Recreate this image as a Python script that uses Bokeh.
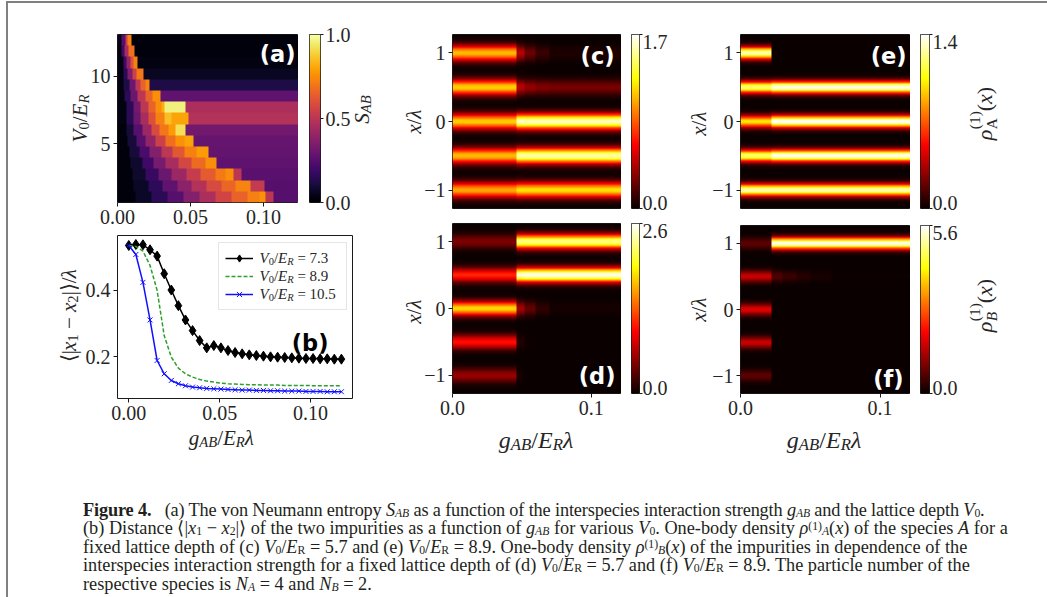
import numpy as np
from math import pi
from bokeh.plotting import figure
from bokeh.models import (Range1d, Label, FixedTicker, Div, LinearColorMapper,
                          PrintfTickFormatter, Legend, LegendItem, GridBox)
from bokeh.layouts import row, column
from bokeh.palettes import Inferno256
from bokeh.embed import file_html
from bokeh.resources import INLINE

# ---------------------------------------------------------------- data
# (a) von Neumann entropy S_AB : rows of lattice depth, each row = list of (g_start, S)
g_max_a = 0.124
V0_rows = [1.05, 1.88, 2.71, 3.54, 4.37, 5.20, 6.03, 6.86, 7.69, 8.52, 9.35, 10.18, 11.01, 11.84, 12.67]
row_height = 0.83
S_rows = [
    [(0, 0.02), (0.012, 0.07), (0.023, 0.15), (0.034, 0.25), (0.045, 0.36), (0.056, 0.46), (0.067, 0.56), (0.078, 0.65), (0.089, 0.72), (0.097, 0.76), (0.1016, 0.5), (0.1069, 0.25)],
    [(0, 0.02), (0.011, 0.07), (0.021, 0.16), (0.031, 0.27), (0.041, 0.38), (0.051, 0.48), (0.061, 0.58), (0.071, 0.66), (0.081, 0.73), (0.0909, 0.52), (0.1012, 0.25)],
    [(0, 0.02), (0.010, 0.08), (0.019, 0.18), (0.028, 0.30), (0.037, 0.42), (0.047, 0.53), (0.057, 0.63), (0.067, 0.71), (0.074, 0.75), (0.0795, 0.5), (0.0852, 0.26)],
    [(0, 0.02), (0.009, 0.08), (0.017, 0.20), (0.025, 0.33), (0.033, 0.45), (0.042, 0.57), (0.051, 0.67), (0.060, 0.75), (0.0681, 0.27)],
    [(0, 0.02), (0.008, 0.10), (0.015, 0.22), (0.022, 0.36), (0.030, 0.50), (0.038, 0.62), (0.046, 0.72), (0.054, 0.78), (0.0624, 0.28)],
    [(0, 0.02), (0.007, 0.10), (0.013, 0.25), (0.019, 0.40), (0.026, 0.55), (0.033, 0.68), (0.040, 0.76), (0.046, 0.80), (0.0521, 0.29)],
    [(0, 0.02), (0.006, 0.10), (0.011, 0.25), (0.017, 0.42), (0.023, 0.58), (0.029, 0.70), (0.035, 0.78), (0.0395, 0.92), (0.0464, 0.32)],
    [(0, 0.03), (0.006, 0.15), (0.011, 0.30), (0.016, 0.45), (0.021, 0.60), (0.026, 0.72), (0.032, 0.85), (0.0372, 0.80), (0.0487, 0.48)],
    [(0, 0.03), (0.006, 0.15), (0.011, 0.32), (0.016, 0.50), (0.021, 0.65), (0.026, 0.75), (0.030, 0.82), (0.0327, 0.96), (0.0464, 0.46)],
    [(0, 0.03), (0.005, 0.15), (0.009, 0.30), (0.014, 0.50), (0.019, 0.65), (0.024, 0.75), (0.0297, 0.27)],
    [(0, 0.03), (0.004, 0.12), (0.008, 0.30), (0.012, 0.50), (0.016, 0.65), (0.019, 0.73), (0.0219, 0.12)],
    [(0, 0.03), (0.004, 0.15), (0.007, 0.35), (0.010, 0.55), (0.013, 0.70), (0.0178, 0.06)],
    [(0, 0.03), (0.004, 0.20), (0.006, 0.40), (0.009, 0.60), (0.011, 0.72), (0.0137, 0.03)],
    [(0, 0.03), (0.003, 0.20), (0.005, 0.45), (0.0075, 0.68), (0.0114, 0.02)],
    [(0, 0.05), (0.003, 0.25), (0.0055, 0.55), (0.007, 0.72), (0.0094, 0.02)],
]

# (b) distance <|x1-x2|>/lambda
g_b = [0.0, 0.0039, 0.0078, 0.0117, 0.0156, 0.0195, 0.0234, 0.0273, 0.0312, 0.0351, 0.039,
       0.0429, 0.0468, 0.0507, 0.0546, 0.0585, 0.0624, 0.0663, 0.0702, 0.0741, 0.078, 0.0819,
       0.0858, 0.0897, 0.0936, 0.0975, 0.1014, 0.1053, 0.1092, 0.1131, 0.117]
dist_73 = [0.534, 0.537, 0.536, 0.521, 0.502, 0.449, 0.400, 0.353, 0.310, 0.278, 0.248, 0.226,
           0.233, 0.226, 0.218, 0.212, 0.208, 0.205, 0.203, 0.201, 0.199, 0.198, 0.197, 0.196,
           0.195, 0.194, 0.194, 0.193, 0.193, 0.192, 0.192]
dist_89 = [0.534, 0.531, 0.517, 0.474, 0.399, 0.263, 0.198, 0.165, 0.148, 0.138, 0.131, 0.126,
           0.123, 0.120, 0.118, 0.117, 0.116, 0.115, 0.115, 0.114, 0.114, 0.114, 0.113, 0.113,
           0.113, 0.113, 0.112, 0.112, 0.112, 0.112, 0.112]
dist_105 = [0.534, 0.507, 0.423, 0.310, 0.188, 0.148, 0.128, 0.118, 0.112, 0.108, 0.106, 0.104,
            0.103, 0.102, 0.101, 0.100, 0.099, 0.099, 0.098, 0.098, 0.097, 0.097, 0.096, 0.096,
            0.096, 0.095, 0.095, 0.095, 0.094, 0.094, 0.094]
legend_V0 = ["7.3", "8.9", "10.5"]

# (c)-(f) one-body densities: peak heights on the lattice sites, per g-block (g_start, heights)
x_sites = [-1.0, -0.5, 0.0, 0.5, 1.0]
g_max_cf = 0.1218
rho_A_57 = [(0.0, [1.05, 1.10, 1.15, 1.15, 1.10]),
            (0.046, [1.20, 1.55, 1.60, 0.45, 0.45]),
            (0.052, [1.20, 1.55, 1.60, 0.35, 0.25]),
            (0.060, [1.20, 1.55, 1.60, 0.30, 0.12]),
            (0.070, [1.20, 1.55, 1.60, 0.28, 0.05])]
rho_B_57 = [(0.0, [0.55, 1.00, 1.80, 1.10, 0.45]),
            (0.046, [0.05, 0.10, 0.60, 2.50, 2.30]),
            (0.052, [0.00, 0.03, 0.35, 2.55, 2.30]),
            (0.060, [0.00, 0.00, 0.15, 2.55, 2.30]),
            (0.070, [0.00, 0.00, 0.05, 2.55, 2.30])]
rho_A_89 = [(0.0, [1.30, 1.20, 1.00, 1.20, 1.30]),
            (0.0225, [1.30, 1.38, 1.40, 1.38, 0.00])]
rho_B_89 = [(0.0, [0.70, 1.60, 1.80, 1.60, 0.70]),
            (0.0225, [0.00, 0.00, 0.05, 0.60, 5.50]),
            (0.030, [0.00, 0.00, 0.00, 0.40, 5.50]),
            (0.040, [0.00, 0.00, 0.00, 0.25, 5.50]),
            (0.050, [0.00, 0.00, 0.00, 0.12, 5.50]),
            (0.065, [0.00, 0.00, 0.00, 0.03, 5.50])]
cbar_max = {"c": 1.7, "d": 2.6, "e": 1.4, "f": 5.6}

# ---------------------------------------------------------------- styling helpers
FONT = "Liberation Serif"
TXT = "#262626"
OX, OY = 8, 3            # page position of the inner top-left corner of the layout
TOP_W, TOP_H = 1032, 452
CAP_H = 139


def hot_palette(n=256):
    cols = []
    for i in range(n):
        t = i / (n - 1)
        r = min(1.0, 0.0416 + (1 - 0.0416) * t / 0.365079)
        g = min(1.0, max(0.0, (t - 0.365079) / (0.746032 - 0.365079)))
        b = min(1.0, max(0.0, (t - 0.746032) / (1 - 0.746032)))
        cols.append("#%02x%02x%02x" % (int(r * 255), int(g * 255), int(b * 255)))
    return cols


HOT = hot_palette()
FIGS = {}


def mkfig(name, fl, ft, fw, fh, left, right, top, bottom, xr, yr, yaxis="left"):
    p = figure(width=left + fw + right, height=top + fh + bottom,
               x_range=Range1d(*xr), y_range=Range1d(*yr), y_axis_location=yaxis,
               output_backend="svg", toolbar_location=None,
               min_border_left=left, min_border_right=right,
               min_border_top=top, min_border_bottom=bottom)
    p.xgrid.visible = False
    p.ygrid.visible = False
    p.outline_line_color = "#1a1a1a"
    p.outline_line_width = 1
    for ax in list(p.xaxis) + list(p.yaxis):
        ax.major_label_text_font = FONT
        ax.major_label_text_font_size = "20px"
        ax.major_label_text_color = TXT
        ax.axis_line_color = None
        ax.major_tick_line_color = "#1a1a1a"
        ax.major_tick_out = 4
        ax.major_tick_in = 0
        ax.minor_tick_line_color = None
        ax.major_label_standoff = 3
    FIGS[name] = (p, dict(fl=fl, ft=ft, fw=fw, fh=fh, xr=xr, yr=yr))
    return p


def to_data(info, px, py):
    x0, x1 = info["xr"]
    y0, y1 = info["yr"]
    x = x0 + (px - info["fl"]) / info["fw"] * (x1 - x0)
    y = y1 - (py - info["ft"]) / info["fh"] * (y1 - y0)
    return x, y


# transparent overlay carrying the free texts (axis titles with sub/superscripts)
ov = figure(width=TOP_W, height=TOP_H, x_range=Range1d(0, TOP_W), y_range=Range1d(TOP_H, 0),
            output_backend="svg", toolbar_location=None, min_border=0,
            x_axis_type=None, y_axis_type=None)
ov.outline_line_color = None
ov.background_fill_alpha = 0
ov.border_fill_alpha = 0
ov.xgrid.visible = False
ov.ygrid.visible = False

IT_W = {"V": .611, "E": .611, "R": .611, "S": .5, "A": .611, "B": .611, "g": .5, "x": .444,
        "λ": .55, "ρ": .5}
RM_W = {"/": .278, "(": .333, ")": .333, "|": .2, "−": .564, "=": .564, " ": .25, ".": .25,
        "⟨": .333, "⟩": .333, "λ": .55, "A": .722, "B": .667}


def cw(c, st):
    if c.isdigit():
        return .5
    if st == "i" and c in IT_W:
        return IT_W[c]
    return RM_W.get(c, .5)


def seg_width(segs, size):
    tot = 0.0
    for s in segs:
        if len(s) > 4 and not s[4]:
            continue
        tot += sum(cw(c, s[1]) for c in s[0]) * size * s[2]
    return tot


def math_label(segs, cx, cy, size, rotated=False, color=TXT, align="center"):
    """segments placed one after another on the transparent overlay (page coordinates)."""
    total = seg_width(segs, size)
    pos = -total / 2 if align == "center" else 0.0
    for s in segs:
        t, st, sc, sh = s[:4]
        adv = s[4] if len(s) > 4 else True
        w = sum(cw(c, st) for c in t) * size * sc if adv else 0.0
        lead = (len(t) - len(t.lstrip(" "))) * 0.25 * size * sc
        txt = t.strip(" ")
        p0 = pos + lead
        if not rotated:
            px, py, ang = cx + p0, cy + 0.33 * size + sh * size, 0.0
        else:
            px, py, ang = cx + 0.33 * size + sh * size, cy - p0, pi / 2
        ov.add_layout(Label(x=px - OX, y=py - OY, text=txt, angle=ang, text_font=FONT,
                            text_font_size="%.1fpx" % (size * sc),
                            text_font_style="italic" if st == "i" else "normal",
                            text_color=color, text_align="left", text_baseline="alphabetic"))
        pos += w


def ov_text(text, px, py, size=20, align="left", baseline="middle"):
    ov.add_layout(Label(x=px - OX, y=py - OY, text=text, text_font=FONT,
                        text_font_size="%dpx" % size, text_color=TXT,
                        text_align=align, text_baseline=baseline))


def tag(name, text, right_px, top_px, color="white"):
    p, info = FIGS[name]
    x, y = to_data(info, right_px, top_px)
    p.add_layout(Label(x=x, y=y, text=text, text_font="DejaVu Sans", text_font_style="bold",
                       text_font_size="22.5px", text_color=color, text_align="right",
                       text_baseline="top"))


SUB = 0.17
LBL_V = [("V", "i", 1, 0), ("0", "n", .7, SUB), ("/", "n", 1, 0), ("E", "i", 1, 0), ("R", "i", .7, SUB)]
LBL_G = [("g", "i", 1, 0), ("AB", "i", .7, SUB), ("/", "n", 1, 0), ("E", "i", 1, 0),
         ("R", "i", .7, SUB), ("λ", "i", 1, 0)]
LBL_X = [("x", "i", 1, 0), ("/", "n", 1, 0), ("λ", "i", 1, 0)]

# ---------------------------------------------------------------- panel (a)
pa = mkfig("a", 117, 34, 181, 168, 109, 0, 31, 30, (0, g_max_a),
           (V0_rows[0] - row_height / 2, V0_rows[-1] + row_height / 2))
ncol_a = 248
gc_a = (np.arange(ncol_a) + 0.5) * g_max_a / ncol_a
img_a = np.zeros((len(V0_rows), ncol_a))
for i, segs in enumerate(S_rows):
    starts = [s[0] for s in segs]
    vals = np.array([s[1] for s in segs])
    img_a[i] = vals[np.searchsorted(starts, gc_a, side="right") - 1]
map_a = LinearColorMapper(palette=Inferno256, low=0, high=1.0)
pa.image(image=[img_a], x=0, y=V0_rows[0] - row_height / 2, dw=g_max_a,
         dh=row_height * len(V0_rows), color_mapper=map_a)
pa.xaxis.ticker = FixedTicker(ticks=[0, 0.05, 0.1])
pa.xaxis.formatter = PrintfTickFormatter(format="%.2f")
pa.yaxis.ticker = FixedTicker(ticks=[5, 10])
tag("a", "(a)", 295, 40)

cba = mkfig("cba", 309, 34, 11, 168, 11, 70, 31, 30, (0, 1), (0, 1.0), yaxis="right")
cba.xaxis.visible = False
cba.image(image=[np.linspace(0, 1.0, 256).reshape(-1, 1)], x=0, y=0, dw=1, dh=1.0, color_mapper=map_a)
cba.yaxis.ticker = FixedTicker(ticks=[0, 0.5, 1.0])
cba.yaxis.formatter = PrintfTickFormatter(format="%.1f")
cba.yaxis.major_tick_out = 3
cba.yaxis.major_label_standoff = 2

# ---------------------------------------------------------------- panel (b)
pb = mkfig("b", 117, 235, 235, 163, 109, 38, 3, 57, (-0.0062, 0.1231), (0.0737, 0.564))
pb.xaxis.ticker = FixedTicker(ticks=[0, 0.05, 0.1])
pb.xaxis.formatter = PrintfTickFormatter(format="%.2f")
pb.yaxis.ticker = FixedTicker(ticks=[0.2, 0.4])
pb.yaxis.formatter = PrintfTickFormatter(format="%.1f")
l73 = pb.line(g_b, dist_73, line_color="black", line_width=1.5)
s73 = pb.scatter(g_b, dist_73, marker="diamond", size=10, color="black")
l89 = pb.line(g_b, dist_89, line_color="#2ca02c", line_width=1.5, line_dash="4 2")
l105 = pb.line(g_b, dist_105, line_color="#1010ff", line_width=1.5)
s105 = pb.scatter(g_b, dist_105, marker="x", size=7, line_color="#1010ff", line_width=1)
leg = Legend(items=[LegendItem(label=" ", renderers=[l73, s73]),
                    LegendItem(label=" ", renderers=[l89]),
                    LegendItem(label=" ", renderers=[l105, s105])],
             location=(101, 88), padding=6, spacing=0, glyph_width=28, glyph_height=18,
             label_height=18, label_width=80, label_standoff=7, margin=0,
             border_line_color="#cccccc", border_line_width=1, background_fill_alpha=0.9,
             label_text_font_size="14px")
pb.add_layout(leg)
tag("b", "(b)", 328, 329, color="black")

# ---------------------------------------------------------------- panels (c)-(f)
ny = 300


def density_panel(name, blocks, sigma, vmax, fl, ft, fw, fh, left, top, bottom, show_x):
    p = mkfig(name, fl, ft, fw, fh, left, 0, top, bottom, (0, g_max_cf), (-1.27, 1.27))
    ys = (np.arange(ny) + 0.5) * 2.54 / ny - 1.27
    ncol = 244
    gc = (np.arange(ncol) + 0.5) * g_max_cf / ncol
    starts = [b[0] for b in blocks]
    profiles = [sum(a * np.exp(-(ys - xs) ** 2 / (2 * sigma ** 2)) for a, xs in zip(b[1], x_sites))
                for b in blocks]
    idx = np.searchsorted(starts, gc, side="right") - 1
    img = np.stack([profiles[k] for k in idx], axis=1)
    cmap = LinearColorMapper(palette=HOT, low=0, high=vmax)
    p.image(image=[img], x=0, y=-1.27, dw=g_max_cf, dh=2.54, color_mapper=cmap)
    p.yaxis.ticker = FixedTicker(ticks=[-1, 0, 1])
    p.yaxis.major_label_overrides = {-1: "−1", 0: "0", 1: "1"}
    p.xaxis.ticker = FixedTicker(ticks=[0, 0.1])
    p.xaxis.formatter = PrintfTickFormatter(format="%.1f")
    if not show_x:
        p.xaxis.visible = False
    return p, cmap


def cbar(name, cmap, vmax, fl, ft, fw, fh, right, top, bottom):
    c = mkfig(name, fl, ft, fw, fh, 10, right, top, bottom, (0, 1), (0, vmax), yaxis="right")
    c.xaxis.visible = False
    c.image(image=[np.linspace(0, vmax, 256).reshape(-1, 1)], x=0, y=0, dw=1, dh=vmax, color_mapper=cmap)
    c.yaxis.ticker = FixedTicker(ticks=[0, vmax])
    c.yaxis.major_tick_out = 3
    # the end labels sit just inside the bar ends (drawn on the overlay, as in the original)
    c.yaxis.major_label_overrides = {0: "", vmax: ""}
    c.yaxis.major_label_text_font_size = "1px"
    ov_text("%.1f" % vmax, fl + fw + 3, ft + 7)
    ov_text("%.1f" % 0.0, fl + fw + 3, ft + fh - 6)
    return c


pc, cm_c = density_panel("c", rho_A_57, 0.08, cbar_max["c"], 452, 34, 169, 174, 62, 31, 8, False)
cbc = cbar("cbc", cm_c, cbar_max["c"], 631, 34, 8, 174, 41, 31, 8)
pd_, cm_d = density_panel("d", rho_B_57, 0.075, cbar_max["d"], 452, 223, 169, 170, 62, 7, 62, True)
cbd = cbar("cbd", cm_d, cbar_max["d"], 631, 223, 8, 170, 41, 7, 62)
pe, cm_e = density_panel("e", rho_A_89, 0.062, cbar_max["e"], 740, 34, 170, 174, 60, 31, 8, False)
cbe = cbar("cbe", cm_e, cbar_max["e"], 920, 34, 9, 174, 111, 31, 8)
pf, cm_f = density_panel("f", rho_B_89, 0.062, cbar_max["f"], 740, 225, 170, 168, 60, 9, 62, True)
cbf = cbar("cbf", cm_f, cbar_max["f"], 920, 225, 9, 168, 111, 9, 62)
tag("c", "(c)", 614, 42)
tag("d", "(d)", 615, 362)
tag("e", "(e)", 906, 42)
tag("f", "(f)", 903, 365)

# ---------------------------------------------------------------- axis titles (overlay)
math_label(LBL_V, 73, 118, 21, rotated=True)
math_label([("S", "i", 1, 0), ("AB", "i", .7, SUB)], 355, 109, 21, rotated=True)
math_label([("⟨|", "n", 1, 0), ("x", "i", 1, 0), ("1", "n", .7, SUB), (" − ", "n", 1, 0),
            ("x", "i", 1, 0), ("2", "n", .7, SUB), ("|⟩/", "n", 1, 0), ("λ", "i", 1, 0)],
           62, 314, 21, rotated=True)
math_label(LBL_G, 222, 431, 21)
for k, val in enumerate(legend_V0):
    math_label(LBL_V + [(" = " + val, "n", 1, 0)], 259, 253 + 18 * k, 15, align="left")
math_label(LBL_X, 407, 120, 21, rotated=True)
math_label(LBL_X, 407, 310, 21, rotated=True)
math_label(LBL_X, 692, 122, 21, rotated=True)
math_label(LBL_X, 692, 308, 21, rotated=True)
math_label(LBL_G, 537, 432, 24)
math_label(LBL_G, 825, 432, 24)
math_label([("ρ", "i", 1, 0), ("A", "n", .7, 0.3, False), ("(1)", "n", .7, -0.45),
            ("(", "n", 1, 0), ("x", "i", 1, 0), (")", "n", 1, 0)], 977, 113, 22, rotated=True)
math_label([("ρ", "i", 1, 0), ("B", "i", .7, 0.3, False), ("(1)", "n", .7, -0.45),
            ("(", "n", 1, 0), ("x", "i", 1, 0), (")", "n", 1, 0)], 977, 305, 22, rotated=True)

# ---------------------------------------------------------------- caption
cap_html = """
<style>
 .cap {font-family:'Liberation Serif', serif; font-size:18.3px; line-height:18.4px; color:#231f20;
       padding:41px 0 0 70px; white-space:nowrap;}
 .cap sub, .cap sup {font-size:64%; vertical-align:baseline; position:relative; line-height:0;}
 .cap sub {top:0.08em;}
 .cap sup {top:-0.38em;}
</style>
<div class="cap">
<span style="letter-spacing:-0.15px"><b>Figure 4.</b>&nbsp;&nbsp; (a) The von Neumann entropy <i>S<sub>AB</sub></i> as a function of the interspecies interaction strength <i>g<sub>AB</sub></i> and the lattice depth <i>V</i><sub>0</sub>.</span><br>
(b) Distance ⟨|<i>x</i><sub>1</sub> − <i>x</i><sub>2</sub>|⟩ of the two impurities as a function of <i>g<sub>AB</sub></i> for various <i>V</i><sub>0</sub>. One-body density <i>ρ</i><sup>(1)</sup><sub><i>A</i></sub>(<i>x</i>) of the species <i>A</i> for a<br>
fixed lattice depth of (c) <i>V</i><sub>0</sub>/<i>E</i><sub>R</sub> = 5.7 and (e) <i>V</i><sub>0</sub>/<i>E</i><sub>R</sub> = 8.9. One-body density <i>ρ</i><sup>(1)</sup><sub><i>B</i></sub>(<i>x</i>) of the impurities in dependence of the<br>
interspecies interaction strength for a fixed lattice depth of (d) <i>V</i><sub>0</sub>/<i>E</i><sub>R</sub> = 5.7 and (f) <i>V</i><sub>0</sub>/<i>E</i><sub>R</sub> = 8.9. The particle number of the<br>
respective species is <i>N<sub>A</sub></i> = 4 and <i>N<sub>B</sub></i> = 2.
</div>
"""
caption = Div(text=cap_html, width=TOP_W, height=CAP_H)

col1 = column(row(pa, cba), pb)
col2 = column(row(pc, cbc), row(pd_, cbd))
col3 = column(row(pe, cbe), row(pf, cbf))
panels = row(col1, col2, col3)
stack = GridBox(children=[(panels, 0, 0), (ov, 0, 0)])
layout = column(stack, caption, margin=(1, 0, 0, 6),
                styles={"border": "2px solid #808080", "background": "white"})

open("out.html", "w").write(file_html(layout, INLINE))
